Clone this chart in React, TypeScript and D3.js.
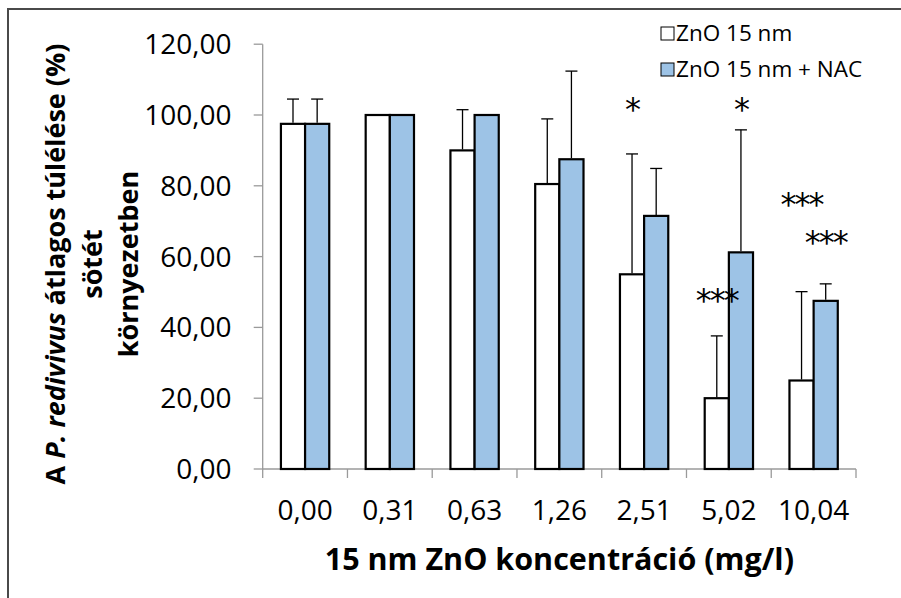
import React from "react";
import * as d3 from "d3";

const categories = ["0,00", "0,31", "0,63", "1,26", "2,51", "5,02", "10,04"];
const seriesNames = ["ZnO 15 nm", "ZnO 15 nm + NAC"];
const znoValues = [97.5, 100, 90, 80.5, 55, 20, 25];
const znoErrors = [7, 0, 11.5, 18.4, 34, 17.6, 25.1];
const nacValues = [97.5, 100, 100, 87.5, 71.5, 61.2, 47.5];
const nacErrors = [7, 0, 0, 24.9, 13.4, 34.6, 4.8];
const yTicks = [0, 20, 40, 60, 80, 100, 120];
const sigCategory = ["2,51", "5,02", "5,02", "10,04", "10,04"];
const sigSeries = [0, 1, 0, 0, 1];
const sigLabel = ["*", "*", "***", "***", "***"];
const sigValue = [104, 104, 50, 77, 66.5];

const W = 901;
const H = 598;
const FONT = "'Open Sans', 'Noto Sans', sans-serif";
const fills = ["#ffffff", "#9dc3e6"];

export default function App() {
  const x0 = d3
    .scaleBand<string>()
    .domain(categories)
    .range([262.7, 856])
    .paddingInner(0.43)
    .paddingOuter(0.215);
  const x1 = d3
    .scaleBand<number>()
    .domain([0, 1])
    .range([0, x0.bandwidth()]);
  const y = d3.scaleLinear().domain([0, 120]).range([469, 44.2]);
  const step = x0.step();
  const [r0, r1] = x0.range();

  const series = [
    { vals: znoValues, errs: znoErrors },
    { vals: nacValues, errs: nacErrors },
  ];
  const fmt = (v: number) => v.toFixed(2).replace(".", ",");

  return (
    <svg
      width={W}
      height={H}
      style={{ position: "absolute", left: 0, top: 0, background: "#fff" }}
    >
      <rect x={0} y={0} width={W} height={H} fill="#fff" />
      {/* outer chart border */}
      <rect x={8} y={9} width={1200} height={1200} fill="none" stroke="#4a4a4a" strokeWidth={2} />

      {/* y axis */}
      <line x1={r0} x2={r0} y1={y(120)} y2={y(0)} stroke="#9a9a9a" strokeWidth={1.3} />
      {yTicks.map((t) => (
        <g key={t}>
          <line x1={r0 - 9} x2={r0} y1={y(t)} y2={y(t)} stroke="#9a9a9a" strokeWidth={1.3} />
          <text
            x={231.5}
            y={y(t) + 10}
            textAnchor="end"
            fontFamily={FONT}
            fontSize={28}
            fill="#000"
          >
            {fmt(t)}
          </text>
        </g>
      ))}

      {/* x axis */}
      <line x1={r0} x2={r1} y1={y(0)} y2={y(0)} stroke="#9a9a9a" strokeWidth={1.3} />
      {d3.range(categories.length + 1).map((i) => (
        <line
          key={i}
          x1={r0 + i * step}
          x2={r0 + i * step}
          y1={y(0)}
          y2={y(0) + 9}
          stroke="#9a9a9a"
          strokeWidth={1.3}
        />
      ))}
      {categories.map((c) => (
        <text
          key={c}
          x={(x0(c) as number) + x0.bandwidth() / 2}
          y={520}
          textAnchor="middle"
          fontFamily={FONT}
          fontSize={28}
          fill="#000"
        >
          {c}
        </text>
      ))}

      {/* bars */}
      {series.map((s, si) =>
        categories.map((c, ci) => {
          const bx = (x0(c) as number) + (x1(si) as number);
          const bw = x1.bandwidth();
          return (
            <rect
              key={`b${si}-${ci}`}
              x={bx}
              y={y(s.vals[ci])}
              width={bw}
              height={y(0) - y(s.vals[ci])}
              fill={fills[si]}
              stroke="#000"
              strokeWidth={2.2}
            />
          );
        })
      )}

      {/* error bars */}
      {series.map((s, si) =>
        categories.map((c, ci) => {
          if (!s.errs[ci]) return null;
          const cx = (x0(c) as number) + (x1(si) as number) + x1.bandwidth() / 2;
          const top = y(s.vals[ci] + s.errs[ci]);
          return (
            <g key={`e${si}-${ci}`} stroke="#000" strokeWidth={1.3}>
              <line x1={cx} x2={cx} y1={y(s.vals[ci]) - 1} y2={top} />
              <line x1={cx - 6} x2={cx + 6} y1={top} y2={top} />
            </g>
          );
        })
      )}

      {/* significance markers */}
      {sigLabel.map((lab, i) => {
        const cx =
          (x0(sigCategory[i]) as number) +
          (x1(sigSeries[i]) as number) +
          x1.bandwidth() / 2;
        return (
          <text
            key={`s${i}`}
            x={cx}
            y={y(sigValue[i]) + 19}
            textAnchor="middle"
            fontFamily="'DejaVu Sans', sans-serif"
            fontSize={32}
            letterSpacing={-2}
            fill="#000"
          >
            {lab}
          </text>
        );
      })}

      {/* legend */}
      {seriesNames.map((n, i) => (
        <g key={n}>
          <rect
            x={661}
            y={[27, 63][i]}
            width={13}
            height={13}
            fill={fills[i]}
            stroke="#000"
            strokeWidth={1}
          />
          <text x={676} y={[41, 77][i]} fontFamily={FONT} fontSize={22.5} fill="#000">
            {n}
          </text>
        </g>
      ))}

      {/* x title */}
      <text
        x={(r0 + r1) / 2}
        y={570}
        textAnchor="middle"
        fontFamily={FONT}
        fontWeight="bold"
        fontSize={30.5}
        fill="#000"
      >
        15 nm ZnO koncentráció (mg/l)
      </text>

      {/* y title */}
      <g fontFamily={FONT} fontWeight="bold" fontSize={27} fill="#000">
        <text transform="translate(65,264) rotate(-90)" textAnchor="middle">
          A <tspan fontStyle="italic">P. redivivus</tspan> átlagos túlélése (%)
        </text>
        <text transform="translate(102,264) rotate(-90)" textAnchor="middle">
          sötét
        </text>
        <text transform="translate(138,264) rotate(-90)" textAnchor="middle">
          környezetben
        </text>
      </g>
    </svg>
  );
}
